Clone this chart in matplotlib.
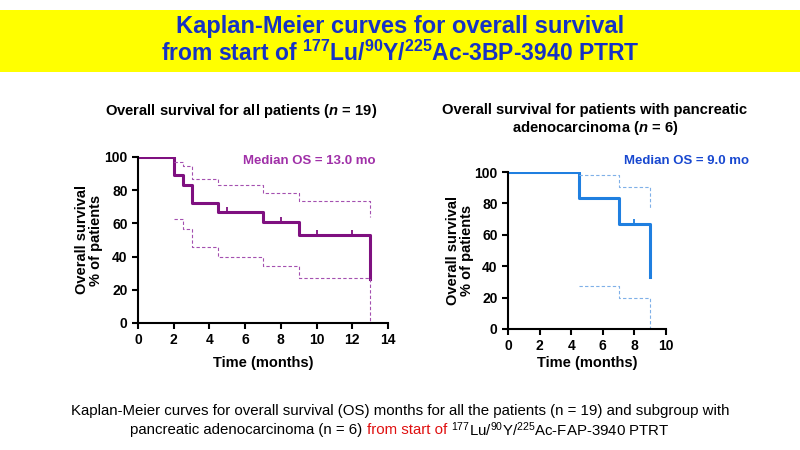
import numpy as np
import matplotlib
matplotlib.use("Agg")
import matplotlib.pyplot as plt
from matplotlib.patches import Rectangle

# Datos (tiempo en meses, supervivencia en %).
t_all = [0, 2, 2.5, 3, 4.5, 7, 9, 13]
s_all = [100, 88.9, 83.3, 72.2, 66.7, 60.6, 53.0, 26.5]
t_all_ci = [2, 2.5, 3, 4.5, 7, 9, 13]
up_all = [96.8, 94.4, 87.0, 83.4, 78.6, 73.4, 64.0]
lo_all = [62.4, 56.4, 45.6, 40.0, 34.6, 27.0, 0.5]
cens_all_t = [1, 5, 8, 10, 12]
cens_all_s = [100, 66.7, 60.6, 53.0, 53.0]

t_pan = [0, 4.5, 7, 9]
s_pan = [100, 83.3, 66.7, 33.3]
t_pan_ci = [4.5, 7, 9]
up_pan = [97.9, 90.5, 76.7]
lo_pan = [27.5, 19.5, 0.0]
cens_pan_t = [8]
cens_pan_s = [66.7]

yticks = [0, 20, 40, 60, 80, 100]

plt.rcParams["font.family"] = ["Liberation Sans"]
plt.rcParams["mathtext.fontset"] = "custom"
plt.rcParams["mathtext.rm"] = "Liberation Sans"
plt.rcParams["mathtext.it"] = "Liberation Sans:italic:bold"
plt.rcParams["mathtext.bf"] = "Liberation Sans:bold"

W, H = 800, 450
fig = plt.figure(figsize=(8, 4.5), dpi=100)

# Banda amarilla del titulo.
fig.patches.append(Rectangle((0, 1 - 72 / H), 1, 62 / H, transform=fig.transFigure,
                             facecolor="#ffff00", edgecolor="none", zorder=0))
blue_t = "#1632c4"
fig.text(0.5, 1 - 27 / H, "Kaplan-Meier curves for overall survival", ha="center", va="center",
         fontsize=17, fontweight="bold", color=blue_t)
fig.text(0.5, 1 - 53 / H,
         r"from start of $^{\mathbf{177}}$Lu/$^{\mathbf{90}}$Y/$^{\mathbf{225}}$Ac-3BP-3940 PTRT",
         ha="center", va="center", fontsize=16.5, fontweight="bold", color=blue_t)


def km_axes(rect, xmax, xstep):
    ax = fig.add_axes(rect)
    ax.set_xlim(0, xmax)
    ax.set_ylim(0, 100)
    ax.set_xticks(np.arange(0, xmax + 1, xstep))
    ax.set_yticks(yticks)
    for s in ["top", "right"]:
        ax.spines[s].set_visible(False)
    for s in ["left", "bottom"]:
        ax.spines[s].set_linewidth(1.5)
    ax.tick_params(width=1.5, length=4, labelsize=10)
    for lab in ax.get_xticklabels() + ax.get_yticklabels():
        lab.set_fontweight("bold")
    ax.patch.set_alpha(0)
    return ax


# Grafico de todos los pacientes.
ax1 = km_axes([138 / W, 1 - 323 / H, 250 / W, 166 / H], 14, 2)
purple = "#7f1080"
purple_ci = "#a450b0"
ax1.step(t_all, s_all, where="post", color=purple, lw=2.2)
ax1.step(t_all_ci, up_all, where="post", color=purple_ci, lw=0.8, ls=(0, (3, 2)))
ax1.step(t_all_ci, lo_all, where="post", color=purple_ci, lw=0.8, ls=(0, (3, 2)))
ax1.plot(cens_all_t, np.array(cens_all_s) + 1.5, ls="none", marker="|", ms=5, mew=1.3, color=purple)
ax1.set_xlabel("Time (months)", fontsize=10.5, fontweight="bold", labelpad=6)
ax1.set_ylabel("Overall survival\n% of patients", fontsize=10.5, fontweight="bold",
               labelpad=1, linespacing=1.0)
fig.text(309 / W, 1 - 161 / H, "Median OS = 13.0 mo", ha="center", va="center",
         fontsize=9.5, fontweight="bold", color="#a030a8")
fig.text(241 / W, 1 - 111 / H, "Overall survival for all patients ($\\it{n}$ = 19)",
         ha="center", va="center", fontsize=10.6, fontweight="bold")

# Grafico de adenocarcinoma pancreatico.
ax2 = km_axes([508 / W, 1 - 329 / H, 158 / W, 157 / H], 10, 2)
blue = "#1f7fe0"
blue_ci = "#7fb0e8"
ax2.step(t_pan, s_pan, where="post", color=blue, lw=2.2)
ax2.step(t_pan_ci, up_pan, where="post", color=blue_ci, lw=0.8, ls=(0, (3, 2)))
ax2.step(t_pan_ci, lo_pan, where="post", color=blue_ci, lw=0.8, ls=(0, (3, 2)))
ax2.plot(cens_pan_t, np.array(cens_pan_s) + 1.5, ls="none", marker="|", ms=5, mew=1.3, color=blue)
ax2.set_xlabel("Time (months)", fontsize=10.5, fontweight="bold", labelpad=2)
ax2.set_ylabel("Overall survival\n% of patients", fontsize=10.5, fontweight="bold",
               labelpad=0, linespacing=1.0)
fig.text(687 / W, 1 - 161 / H, "Median OS = 9.0 mo", ha="center", va="center",
         fontsize=9.5, fontweight="bold", color="#1848d0")
fig.text(595 / W, 1 - 110 / H, "Overall survival for patients with pancreatic",
         ha="center", va="center", fontsize=10.6, fontweight="bold")
fig.text(595 / W, 1 - 128 / H, "adenocarcinoma ($\\it{n}$ = 6)",
         ha="center", va="center", fontsize=10.6, fontweight="bold")


# Pie de figura con partes de distinto color.
def pieces_line(y, pieces, size):
    texts = [fig.text(0, y, s, color=c, fontsize=size, va="center") for s, c in pieces]
    r = fig.canvas.get_renderer()
    widths = [t.get_window_extent(r).width for t in texts]
    x = (W - sum(widths)) / 2
    for t, w in zip(texts, widths):
        t.set_x(x / W)
        x += w


pieces_line(1 - 411 / H, [("Kaplan-Meier curves for overall survival (OS) months for all the patients "
                           "(n = 19) and subgroup with", "black")], 10.8)
pieces_line(1 - 430 / H, [("pancreatic adenocarcinoma (n = 6) ", "black"),
                          ("from start of ", "#e01010"),
                          (r"$^{177}$Lu/$^{90}$Y/$^{225}$Ac-FAP-3940 PTRT", "black")], 10.8)

fig.savefig("out.png", dpi=100)
